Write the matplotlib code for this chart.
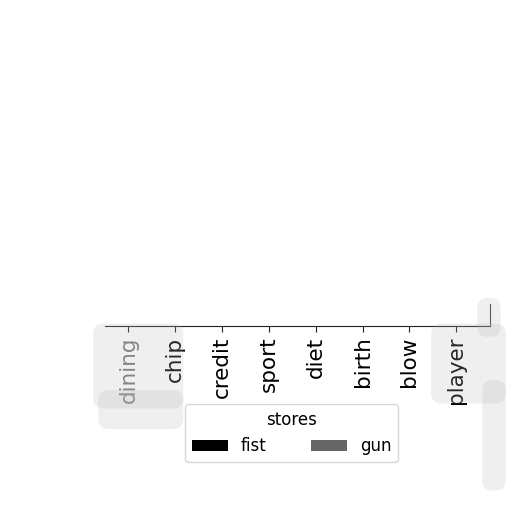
import numpy as np
import matplotlib.pyplot as plt
from matplotlib.patches import FancyBboxPatch

# categories and series (bars are flat in the reference)
categories = ["dining", "chip", "credit", "sport", "diet", "birth", "blow", "player"]
fist = [0, 0, 0, 0, 0, 0, 0, 0]
gun = [0, 0, 0, 0, 0, 0, 0, 0]
series_names = ["fist", "gun"]
series_colors = ["#000000", "#666666"]

fig = plt.figure(figsize=(5.12, 5.12), dpi=100)

# soft grey smudges seen in the reference
for (x0, y0, w, h) in [(0.19, 0.21, 0.16, 0.15), (0.20, 0.17, 0.15, 0.06),
                       (0.85, 0.22, 0.13, 0.14), (0.95, 0.05, 0.03, 0.20),
                       (0.94, 0.35, 0.03, 0.06)]:
    fig.patches.append(FancyBboxPatch((x0, y0), w, h, boxstyle="round,pad=0.008,rounding_size=0.02",
                                      transform=fig.transFigure, facecolor="#b8b8b8",
                                      edgecolor="none", alpha=0.22, zorder=0))

ax = fig.add_axes([105 / 512, (512 - 326) / 512, (490 - 105) / 512, 22 / 512])
x = np.arange(len(categories))
ax.bar(x, fist, width=0.8, color=series_colors[0], label=series_names[0])
ax.bar(x, gun, width=0.8, bottom=fist, color=series_colors[1], label=series_names[1])

ax.set_xlim(-0.5, len(categories) - 0.5 + 0.22)
ax.set_ylim(0, 1)
ax.set_xticks(x)
ax.set_xticklabels(categories, rotation=90, fontsize=15.5)
ax.get_xticklabels()[0].set_color("#777777")
ax.set_yticks([])
ax.tick_params(axis="x", length=4, color="#222222")
ax.spines["top"].set_visible(False)
ax.spines["left"].set_visible(False)
ax.spines["bottom"].set_color("#222222")
ax.spines["right"].set_color("#444444")
ax.patch.set_alpha(0)

leg = fig.legend(title="stores", ncol=2, loc="lower left",
                 bbox_to_anchor=(185 / 512, (512 - 462) / 512), borderaxespad=0,
                 fontsize=12, title_fontsize=12, handlelength=2.15,
                 columnspacing=2.65, frameon=True, fancybox=True)
leg.get_frame().set_edgecolor("#cccccc")

fig.savefig("out.png", dpi=100)
